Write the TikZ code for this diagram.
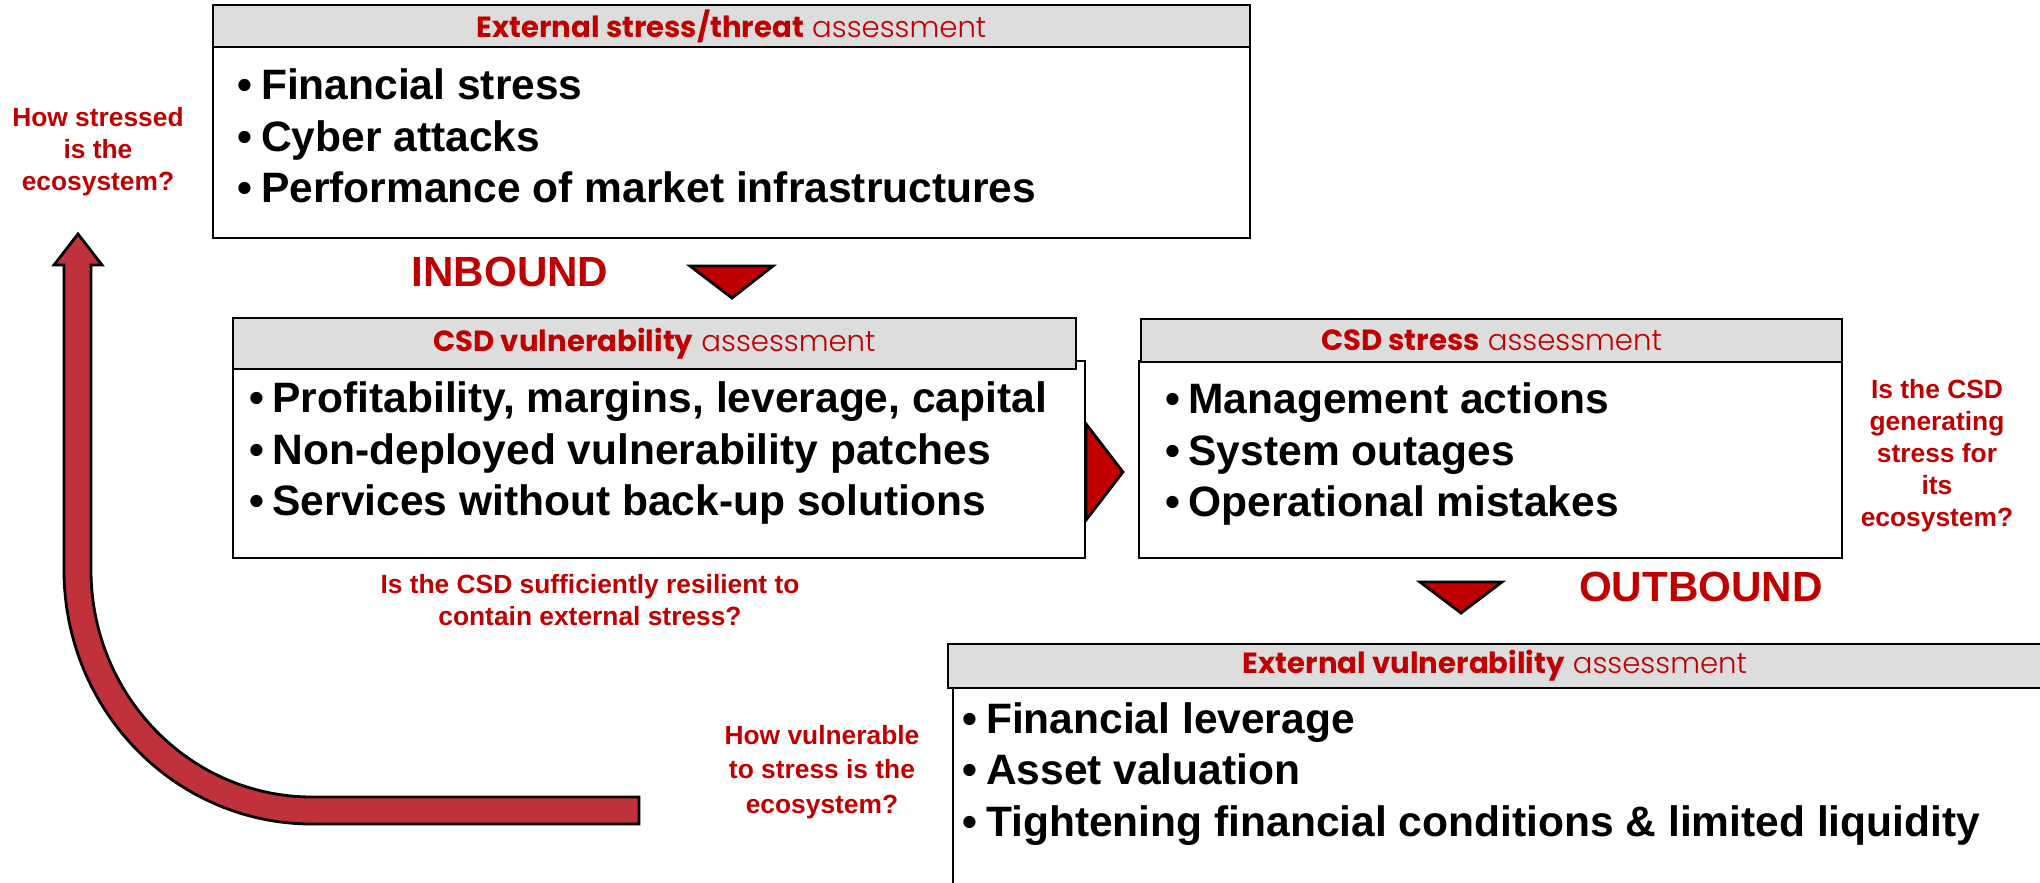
\documentclass[tikz,border=0pt]{standalone}
\usepackage{fontspec}
\setmainfont{Liberation Sans}
\newfontfamily\headfont{Poppins}
\newfontfamily\headlightfont{Poppins Light}

\definecolor{darkred}{HTML}{C00000}
\definecolor{arrowred}{HTML}{C0313B}
\definecolor{headgray}{HTML}{DDDDDD}

\newcommand{\assesstitle}[1]{{\headfont\bfseries #1} {\headlightfont assessment}}
\newcommand{\listdot}{\textbullet\hspace{0.2em}}

\tikzset{
    headbox/.style = {rectangle,
        draw = black,
        line width = 0.6pt,
        fill = headgray,
        text = darkred,
        inner sep = 0pt,
        font = \fontsize{8.3}{10}\selectfont},
    bodybox/.style = {rectangle,
        draw = black,
        line width = 0.6pt,
        fill = white,
        inner sep = 0pt},
    itemtext/.style = {anchor = west,
        align = left,
        inner sep = 0pt,
        font = \fontsize{12.1}{14.6}\selectfont\bfseries},
    question/.style = {align = center,
        inner sep = 0pt,
        text = darkred,
        font = \fontsize{7.5}{9.1}\selectfont\bfseries},
    flowlabel/.style = {inner sep = 0pt,
        text = darkred,
        font = \fontsize{12}{14}\selectfont\bfseries},
    pointer/.style = {draw = black,
        line width = 0.8pt,
        fill = darkred,
        line join = miter},
}

\begin{document}
\begin{tikzpicture}

\useasboundingbox (0,0) rectangle (20.40,-8.83);
\clip (0,0) rectangle (20.40,-8.83);

\node[bodybox,
    minimum width = 10.37cm,
    minimum height = 1.91cm] (extbody) at (7.315,-1.425) {};

\node[headbox,
    minimum width = 10.37cm,
    minimum height = 0.42cm] (exthead) at (7.315,-0.26) {\assesstitle{External stress/threat}};

\node[itemtext] (extitems) at (2.37,-1.36) {\listdot Financial stress\\\listdot Cyber attacks\\\listdot Performance of market infrastructures};


\node[bodybox,
    minimum width = 8.52cm,
    minimum height = 1.97cm] (vulbody) at (6.59,-4.595) {};

\node[headbox,
    minimum width = 8.43cm,
    minimum height = 0.51cm] (vulhead) at (6.545,-3.435) {\assesstitle{CSD vulnerability}};

\node[itemtext] (vulitems) at (2.485,-4.53) {\listdot Profitability, margins, leverage, capital\\\listdot Non-deployed vulnerability patches\\\listdot Services without back-up solutions};


\node[bodybox,
    minimum width = 7.03cm,
    minimum height = 1.97cm] (strbody) at (14.905,-4.595) {};

\node[headbox,
    minimum width = 7.01cm,
    minimum height = 0.43cm] (strhead) at (14.915,-3.405) {\assesstitle{CSD stress}};

\node[itemtext] (stritems) at (11.645,-4.54) {\listdot Management actions\\\listdot System outages\\\listdot Operational mistakes};


\node[bodybox,
    minimum width = 11.47cm,
    minimum height = 2.62cm] (ecobody) at (15.265,-8.19) {};

\node[headbox,
    minimum width = 10.94cm,
    minimum height = 0.44cm] (ecohead) at (14.95,-6.66) {\assesstitle{External vulnerability}};

\node[itemtext] (ecoitems) at (9.62,-7.74) {\listdot Financial leverage\\\listdot Asset valuation\\\listdot Tightening financial conditions \& limited liquidity};


\node[flowlabel] (inbound) at (5.10,-2.72) {INBOUND};

\node[flowlabel] (outbound) at (17.01,-5.87) {OUTBOUND};

\node[question] (qstressed) at (0.98,-1.52) {How stressed\\is the\\ecosystem?};

\node[question] (qresilient) at (5.90,-6.00) {Is the CSD sufficiently resilient to\\contain external stress?};

\node[question] (qgenerating) at (19.37,-4.56) {Is the CSD\\generating\\stress for\\its\\ecosystem?};

\node[question, font = \fontsize{7.5}{9.8}\selectfont\bfseries] (qvulnerable) at (8.22,-7.72) {How vulnerable\\to stress is the\\ecosystem?};


\draw[pointer] (6.90,-2.66) -- (7.73,-2.66) -- (7.32,-2.98) -- cycle;

\draw[pointer] (vulbody.east |- 0,-4.24) -- (11.23,-4.72) -- (vulbody.east |- 0,-5.20) -- cycle;

\draw[pointer] (14.20,-5.82) -- (15.02,-5.82) -- (14.61,-6.13) -- cycle;

\draw[draw = black, line width = 0.8pt, fill = arrowred, line join = miter]
    (0.91,-2.65) -- (1.02,-2.65) -- (0.78,-2.34) -- (0.54,-2.65) -- (0.64,-2.65) -- (0.64,-5.70)
    arc[start angle = 180, end angle = 270, x radius = 2.48cm, y radius = 2.54cm]
    -- (6.39,-8.24) -- (6.39,-7.97) -- (3.12,-7.97)
    arc[start angle = 270, end angle = 180, x radius = 2.21cm, y radius = 2.27cm]
    -- cycle;

\end{tikzpicture}
\end{document}
